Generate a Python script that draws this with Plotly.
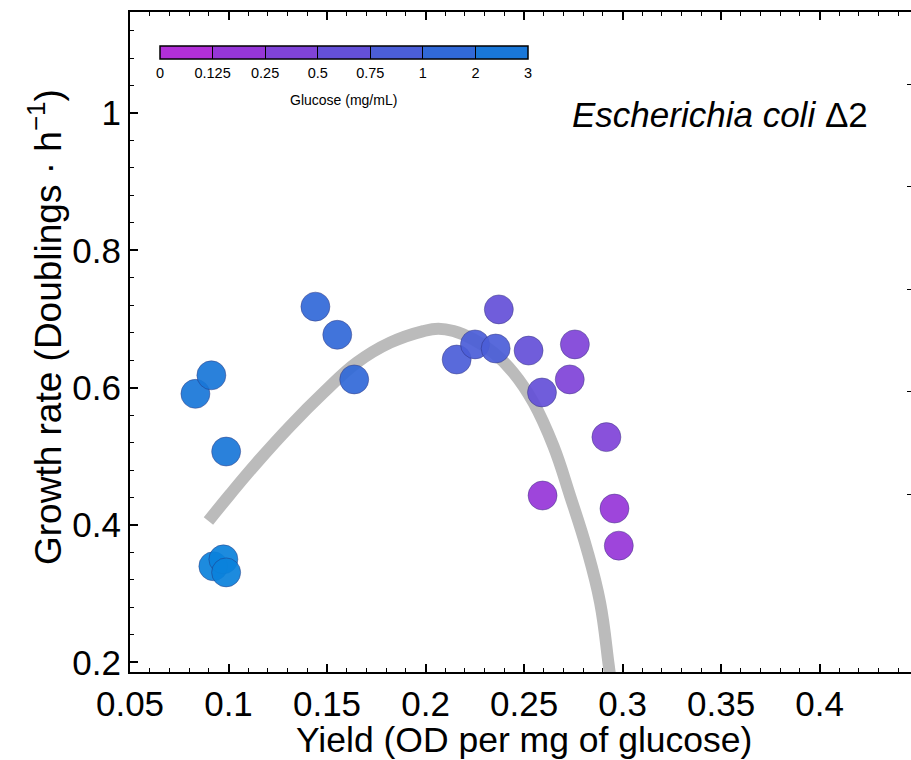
import plotly.graph_objects as go

# Glucose levels (mg/mL) and the colour used for each level
glucose_levels = [0, 0.125, 0.25, 0.5, 0.75, 1, 2, 3]
glucose_labels = ["0", "0.125", "0.25", "0.5", "0.75", "1", "2", "3"]
level_colors = ["#b22fd8", "#9636d8", "#8043d8", "#6450d8",
                "#4b5ed8", "#3169d8", "#1977d8", "#0a82dc"]

# Measured cultures: yield, growth rate, glucose concentration
yield_od = [0.0832, 0.0913, 0.0988, 0.0923, 0.0974, 0.0988,
            0.1441, 0.1552, 0.1638,
            0.2158, 0.2251, 0.2356,
            0.2372, 0.2523, 0.2591,
            0.2758, 0.2732, 0.2918,
            0.2594, 0.2959, 0.2981]
growth_rate = [0.591, 0.618, 0.507, 0.340, 0.350, 0.331,
               0.718, 0.677, 0.612,
               0.641, 0.663, 0.657,
               0.714, 0.654, 0.593,
               0.663, 0.612, 0.528,
               0.443, 0.424, 0.370]
glucose = [2, 2, 2, 3, 3, 3,
           1, 1, 1,
           0.75, 0.75, 0.75,
           0.5, 0.5, 0.5,
           0.25, 0.25, 0.25,
           0.125, 0.125, 0.125]

# Rate-yield trade-off curve
curve_yield = [0.0898, 0.1008, 0.1144, 0.1313, 0.1482, 0.1651, 0.1820,
               0.1989, 0.2065, 0.2142, 0.2243, 0.2345, 0.2446, 0.2548,
               0.2649, 0.2734, 0.2819, 0.2886, 0.2928, 0.2942]
curve_rate = [0.4058, 0.4447, 0.4908, 0.5441, 0.5927, 0.6364, 0.6655,
              0.6824, 0.6859, 0.6824, 0.6703, 0.6509, 0.6218, 0.5782,
              0.5150, 0.4422, 0.3646, 0.2870, 0.1997, 0.1680]

FONT = "Liberation Sans, Arial, Helvetica, sans-serif"

point_colors = [level_colors[glucose_levels.index(g)] for g in glucose]

fig = go.Figure()

fig.add_trace(go.Scatter(
    x=curve_yield, y=curve_rate, mode="lines",
    line=dict(color="#bbbbbb", width=12, shape="spline", smoothing=1.2),
    showlegend=False, hoverinfo="skip",
))

fig.add_trace(go.Scatter(
    x=yield_od, y=growth_rate, mode="markers",
    marker=dict(size=29, color=point_colors, opacity=0.92,
                line=dict(color="rgba(40,40,110,0.45)", width=1)),
    showlegend=False,
))

# Discrete glucose colour bar (7 segments between 8 ticks)
n_seg = len(glucose_levels) - 1
scale = []
for i in range(n_seg):
    scale.append([i / n_seg, level_colors[i]])
    scale.append([(i + 1) / n_seg, level_colors[i]])

fig.add_trace(go.Scatter(
    x=[None], y=[None], mode="markers",
    marker=dict(color=[0], cmin=0, cmax=n_seg, colorscale=scale,
                showscale=True,
                colorbar=dict(
                    orientation="h",
                    lenmode="pixels", len=368, thickness=13,
                    x=(160 - 130) / 781, xanchor="left",
                    y=(672 - 46) / 660, yanchor="top",
                    xpad=0, ypad=0,
                    outlinewidth=1.5, outlinecolor="black",
                    tickmode="array",
                    tickvals=list(range(len(glucose_levels))),
                    ticktext=glucose_labels,
                    ticks="inside", ticklen=13, tickwidth=1, tickcolor="black",
                    tickfont=dict(family=FONT, size=14.5, color="black"),
                    ticklabelposition="outside",
                )),
    showlegend=False, hoverinfo="skip",
))

# Invisible trace carrying the right-hand tick axis
fig.add_trace(go.Scatter(x=[None], y=[None], yaxis="y2",
                         showlegend=False, hoverinfo="skip"))

fig.update_layout(
    width=911, height=760,
    margin=dict(l=130, r=0, t=12, b=88),
    paper_bgcolor="white", plot_bgcolor="white",
    font=dict(family=FONT, color="black"),
    xaxis=dict(
        range=[0.05, 0.4464], tick0=0.05, dtick=0.05,
        ticks="inside", ticklen=8, tickwidth=1.5, tickcolor="black",
        showline=True, linewidth=2, linecolor="black", mirror="ticks",
        showgrid=False, zeroline=False,
        tickfont=dict(family=FONT, size=35),
        minor=dict(dtick=0.01, ticks="inside", ticklen=4, tickwidth=1,
                   tickcolor="black", showgrid=False),
    ),
    yaxis=dict(
        range=[0.186, 1.147], tick0=0.2, dtick=0.2,
        ticks="inside", ticklen=8, tickwidth=1.5, tickcolor="black",
        showline=True, linewidth=2, linecolor="black",
        showgrid=False, zeroline=False,
        tickfont=dict(family=FONT, size=35),
        minor=dict(dtick=0.04, ticks="inside", ticklen=4, tickwidth=1,
                   tickcolor="black", showgrid=False),
    ),
    yaxis2=dict(
        overlaying="y", side="right", range=[-1.736, 4.705],
        tickmode="array", tickvals=[0, 1, 2, 3, 4],
        ticks="inside", ticklen=4, tickwidth=1, tickcolor="black",
        showticklabels=False, showline=False, showgrid=False, zeroline=False,
    ),
    annotations=[
        dict(text="Glucose (mg/mL)", xref="paper", yref="paper",
             x=(343 - 130) / 781, y=(672 - 100) / 660,
             xanchor="center", yanchor="middle", showarrow=False,
             font=dict(family=FONT, size=14)),
        dict(text="Yield (OD per mg of glucose)", xref="paper", yref="paper",
             x=(524 - 130) / 781, y=(672 - 740) / 660,
             xanchor="center", yanchor="middle", showarrow=False,
             font=dict(family=FONT, size=35.5)),
        dict(text="Growth rate (Doublings · h<sup>−1</sup>)",
             xref="paper", yref="paper",
             x=(45 - 130) / 781, y=(672 - 327) / 660, textangle=-90,
             xanchor="center", yanchor="middle", showarrow=False,
             font=dict(family=FONT, size=37)),
        dict(text="<i>Escherichia coli</i> Δ2", xref="paper", yref="paper",
             x=(870 - 130) / 781, y=(672 - 115) / 660,
             xanchor="right", yanchor="middle", showarrow=False,
             font=dict(family=FONT, size=35)),
    ],
)

fig.write_html("out.html")
